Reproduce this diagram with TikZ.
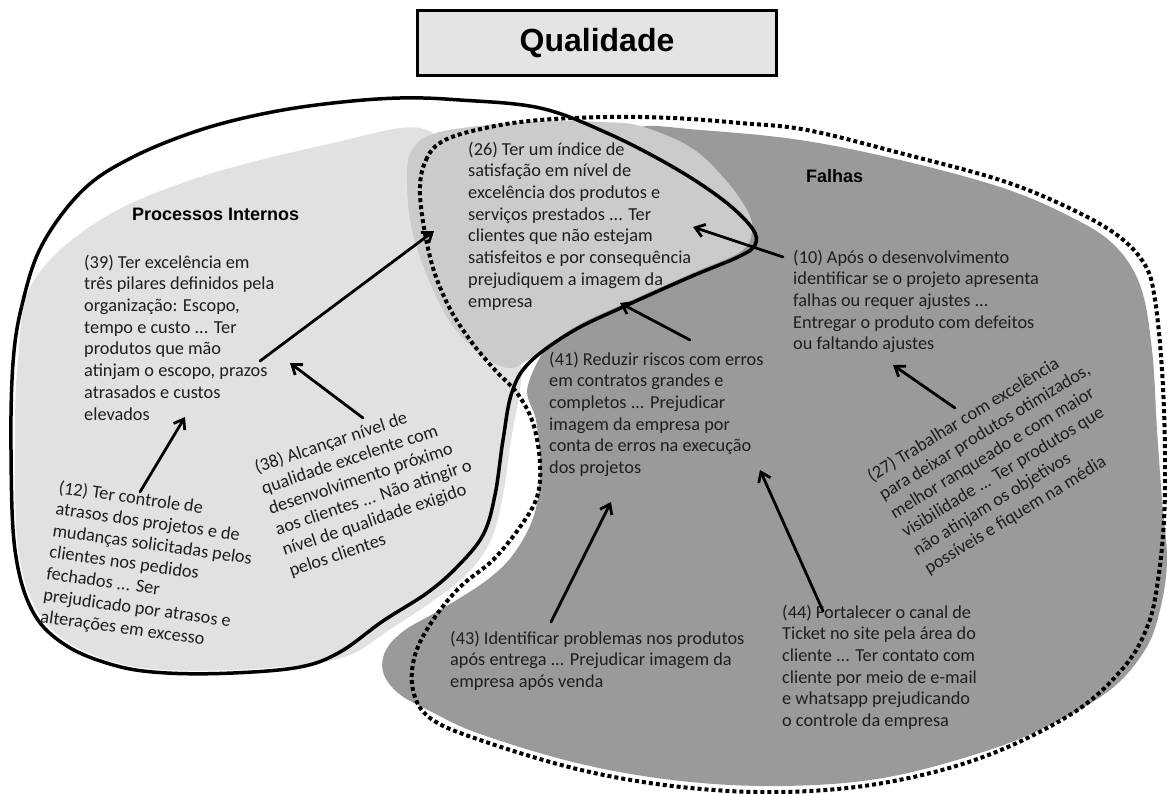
\documentclass[tikz,border=0pt]{standalone}
\usepackage{fontspec}
\setmainfont{Carlito}
\newfontfamily\headfont{Liberation Sans}
\usetikzlibrary{arrows.meta}

\definecolor{innerfill}{RGB}{225,225,225}
\definecolor{sharedfill}{RGB}{203,203,203}
\definecolor{faultfill}{RGB}{154,154,154}
\definecolor{titlefill}{RGB}{228,228,228}
\definecolor{ink}{RGB}{30,30,30}

\begin{document}
\begin{tikzpicture}[x=1pt,y=-1pt,
  note/.style={font=\fontsize{18.3}{21.7}\selectfont, text=ink, align=left,
    inner sep=0pt, anchor=north west},
  heading/.style={font=\headfont\bfseries\fontsize{18}{20}\selectfont,
    inner sep=0pt, anchor=base west},
  link/.style={line width=2.8pt, line cap=round,
    -{Straight Barb[length=9pt,width=13pt]}},
  outline/.style={line width=3.5pt},
  dotline/.style={line width=4pt, dash pattern=on 4pt off 3pt}]

\useasboundingbox (0,0) rectangle (1167,794);

% ---- region fills ----
% Falhas (dark)
\fill[faultfill] plot[smooth cycle, tension=0.6] coordinates {
  (640,128) (700,130) (800,140) (900,160) (1000,187) (1065,214) (1112,243)
  (1140,285) (1152,350) (1157,430) (1162,500) (1167,560) (1160,610)
  (1145,650) (1110,690) (1050,725) (983,752) (883,778) (782,786) (681,781)
  (581,764) (480,734) (428,710) (398,693) (383,672) (386,650) (405,630)
  (440,610) (487,580) (515,552) (535,512) (540,463) (536,420) (528,385)
  (560,330) (620,290) (680,230) (670,160)};
% Processos Internos (light)
\fill[innerfill] plot[smooth cycle, tension=0.6] coordinates {
  (420,128) (450,165) (475,260) (497,330) (520,362) (519,395) (511,440)
  (503,495) (491,540) (467,574) (430,603) (392,628) (350,655) (300,665)
  (233,670) (167,670) (117,663) (69,643) (36,609) (18,548) (15,450)
  (18,360) (33,282) (100,220) (200,177) (333,143)};
% shared area (medium)
\fill[sharedfill] plot[smooth cycle, tension=0.6] coordinates {
  (407,175) (412,150) (430,135) (470,127) (540,121) (600,122) (640,126)
  (690,147) (723,177) (747,210) (752,232) (740,252) (690,274) (623,304)
  (573,328) (528,360) (508,368) (482,355) (452,325) (428,278) (411,225)};

% ---- region borders ----
\draw[dotline] plot[smooth cycle, tension=0.6] coordinates {
  (420,195) (426,160) (445,140) (490,127) (540,120) (607,117) (673,118)
  (740,123) (807,130) (900,153) (1000,180) (1067,207) (1117,235) (1145,265)
  (1155,300) (1162,370) (1165,450) (1164,520) (1158,580) (1148,625)
  (1124,667) (1073,713) (983,757) (883,783) (782,792) (681,787) (581,770)
  (480,740) (430,718) (413,690) (415,655) (433,620) (460,587) (493,560)
  (520,527) (537,497) (540,463) (533,423) (517,393) (495,370) (470,340)
  (447,303) (430,257)};
\draw[outline] plot[smooth cycle, tension=0.6] coordinates {
  (400,98) (460,100) (540,108) (607,133) (673,167) (723,200) (752,228)
  (755,245) (738,257) (690,277) (623,307) (573,331) (530,362) (512,392)
  (503,440) (495,495) (483,535) (457,567) (427,593) (383,621) (340,652)
  (300,667) (233,673) (167,673) (117,666) (67,646) (33,612) (15,550)
  (11,450) (13,363) (22,305) (42,245) (83,190) (133,157) (200,130)
  (267,113) (333,103)};

% ---- title ----
\node[draw, line width=3pt, fill=titlefill, minimum width=359pt,
  minimum height=65pt, font=\headfont\bfseries\fontsize{32}{34}\selectfont]
  (title) at (597,43) {Qualidade};

% ---- headings ----
\node[heading] (hproc) at (132,221) {Processos Internos};
\node[heading] (hfail) at (806,183) {Falhas};

% ---- statements ----
\node[note] (n26) at (468,139.8) {\strut(26) Ter um índice de\\satisfação em nível de\\excelência dos produtos e\\serviços prestados ... Ter\\clientes que não estejam\\satisfeitos e por consequência\\prejudiquem a imagem da\\empresa};
\node[note] (n39) at (84,252.8) {\strut(39) Ter excelência em\\três pilares definidos pela\\organização: Escopo,\\tempo e custo ... Ter\\produtos que mão\\atinjam o escopo, prazos\\atrasados e custos\\elevados};
\node[note] (n10) at (793,247.8) {\strut(10) Após o desenvolvimento\\identificar se o projeto apresenta\\falhas ou requer ajustes ...\\Entregar o produto com defeitos\\ou faltando ajustes};
\node[note] (n41) at (549,349.8) {\strut(41) Reduzir riscos com erros\\em contratos grandes e\\completos ... Prejudicar\\imagem da empresa por\\conta de erros na execução\\dos projetos};
\node[note] (n43) at (450,628.8) {\strut(43) Identificar problemas nos produtos\\após entrega ... Prejudicar imagem da\\empresa após venda};
\node[note] (n44) at (782,602.8) {\strut(44) Fortalecer o canal de\\Ticket no site pela área do\\cliente ... Ter contato com\\cliente por meio de e-mail\\e whatsapp prejudicando\\o controle da empresa};
\node[note, rotate=-8] (n12) at (60,478) {\strut(12) Ter controle de\\atrasos dos projetos e de\\mudanças solicitadas pelos\\clientes nos pedidos\\fechados ... Ser\\prejudicado por atrasos e\\alterações em excesso};
\node[note, rotate=18.5] (n38) at (252,459) {\strut(38) Alcançar nível de\\qualidade excelente com\\desenvolvimento próximo\\aos clientes ... Não atingir o\\nível de qualidade exigido\\pelos clientes};
\node[note, rotate=31.5] (n27) at (864,469) {\strut(27) Trabalhar com excelência\\para deixar produtos otimizados,\\melhor ranqueado e com maior\\visibilidade ... Ter produtos que\\não atinjam os objetivos\\possíveis e fiquem na média};

% ---- arrow ends ----
\coordinate (from39) at (260,361);  \coordinate (to26left) at (434,231);
\coordinate (from38) at (363,418);  \coordinate (to39right) at (290,363);
\coordinate (from12) at (140,492);  \coordinate (to39low) at (185,417);
\coordinate (from10) at (783,257);  \coordinate (to26right) at (693,227);
\coordinate (from41) at (690,340);  \coordinate (to26low) at (620,303);
\coordinate (from27) at (955,408);  \coordinate (to10) at (893,365);
\coordinate (from43) at (551,622);  \coordinate (to41left) at (611,502);
\coordinate (from44) at (823,611);  \coordinate (to41right) at (760,470);

\draw[link] (from39) -- (to26left);
\draw[link] (from38) -- (to39right);
\draw[link] (from12) -- (to39low);
\draw[link] (from10) -- (to26right);
\draw[link] (from41) -- (to26low);
\draw[link] (from27) -- (to10);
\draw[link] (from43) -- (to41left);
\draw[link] (from44) -- (to41right);
\end{tikzpicture}
\end{document}
